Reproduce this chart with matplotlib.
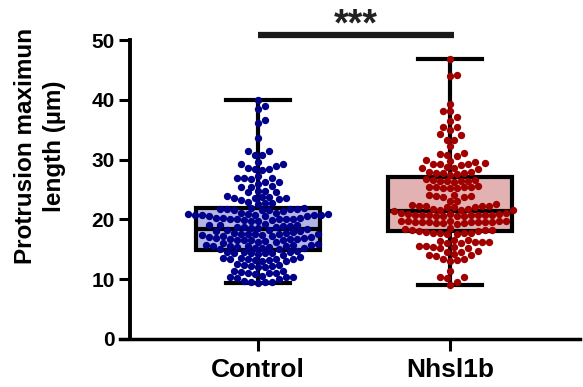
import numpy as np
import matplotlib
matplotlib.use('Agg')
import matplotlib.pyplot as plt

plt.rcParams['font.family'] = ['Liberation Sans', 'DejaVu Sans']
plt.rcParams['font.weight'] = 'bold'

#### DATA ####

groups = ['Control', 'Nhsl1b']

control = [
    39.9, 39.0, 38.4, 36.7, 36.2, 33.6, 31.5, 31.4, 30.8, 30.7,
    29.6, 29.3, 29.0, 29.2, 28.6, 28.4, 28.5, 28.3,
    27.0, 26.8, 27.0, 27.2, 26.9, 26.2, 26.2, 26.0,
    25.6, 25.4, 25.5,
    24.8, 24.6, 24.7, 24.5,
    23.8, 23.6, 23.5, 23.7, 23.4, 23.6, 23.9, 23.3,
    22.9, 22.7, 22.8, 22.6,
    21.9, 21.8, 21.6, 21.7, 21.5, 21.8, 21.6, 21.9, 21.4, 21.7,
    20.9, 20.7, 20.8, 20.6, 21.0, 20.9, 20.7, 20.5, 20.8, 21.1, 20.6, 20.9, 20.8,
    20.1, 19.9, 20.0, 20.2, 19.8, 20.0, 20.1, 19.9, 20.3, 19.7, 20.0, 20.2,
    18.9, 18.7, 18.8, 18.4, 19.1, 18.3, 18.8, 18.5, 19.0, 18.2, 19.2, 18.6, 18.9, 18.1, 19.0,
    17.6, 17.4, 17.5, 17.7, 17.3, 17.5, 17.8, 17.2, 17.6, 17.4, 17.5, 17.9, 17.0, 17.1, 18.0,
    16.7, 16.5, 16.6, 16.8, 16.4, 16.6, 16.9, 16.3, 16.7, 16.5, 16.0, 16.2, 16.9,
    15.6, 15.4, 15.5, 15.7, 15.3, 15.5, 15.8, 15.2, 15.6, 15.4, 15.9, 15.1, 15.0, 15.3, 15.7,
    14.5, 14.3, 14.4, 14.6, 14.2, 14.4, 14.7, 14.1, 14.5, 14.3,
    13.4, 13.2, 13.3, 13.5, 13.1, 13.3, 13.6, 13.0, 13.4, 13.2, 13.7,
    12.3, 12.1, 12.2, 12.4, 12.0, 12.2, 12.5,
    11.2, 11.0, 11.1, 11.3, 10.9, 11.1, 11.4,
    10.4, 10.2, 10.3, 10.5, 10.1, 10.3,
    9.6, 9.4, 9.5, 9.7, 9.5,
]

nhsl1b = [
    46.8, 44.1, 44.0, 39.3, 38.1, 38.2, 37.2, 36.4, 35.5, 35.4, 35.0, 34.1, 34.2,
    33.2, 33.3, 32.2, 31.0, 31.1, 30.6, 30.7, 30.0, 29.6, 29.7, 29.2, 29.3, 29.1,
    29.2, 29.4, 28.6, 28.7, 28.5, 28.6,
    27.9, 27.7, 27.8, 27.6, 28.0, 27.5, 27.8,
    26.6, 26.4, 26.5, 26.7, 26.3, 26.5, 26.6, 26.4,
    25.5, 25.3, 25.4, 25.6, 25.2, 25.4, 25.5, 25.3,
    24.0, 23.8, 23.9, 24.1, 23.7, 23.9,
    23.0, 23.1,
    22.3, 22.1, 22.2, 22.4, 22.0, 22.2, 22.3, 22.1, 22.5,
    21.7, 21.5, 21.6, 21.8, 21.4, 21.6,
    20.8, 20.6, 20.7, 20.9, 20.5, 20.8, 21.0, 20.6, 20.7, 20.9, 20.8, 20.6, 21.0, 20.7, 20.9, 20.8,
    19.6, 19.4, 19.5, 19.7, 19.3, 19.6, 19.8, 19.4, 19.5, 19.7, 19.6, 19.4, 19.8, 19.5, 19.7, 19.6,
    18.4, 18.2, 18.3, 18.5, 18.1, 18.3,
    17.8, 17.6, 17.7, 17.9, 17.5, 17.7, 18.0, 17.8,
    16.4, 16.2, 16.3, 16.5, 16.1, 16.3, 16.6, 16.0,
    15.5, 15.3, 15.4, 15.6, 15.2, 15.4,
    14.7, 14.5, 14.6,
    14.1, 13.9, 14.0, 14.2,
    13.3, 13.1, 13.2, 13.4,
    11.4,
    10.4, 10.2, 10.3,
    9.6, 9.1,
]

dot_colors = ['#00008B', '#A00000']
box_colors = ['#B4B4E4', '#E2B2B2']
yticks = [0, 10, 20, 30, 40, 50]
signif = '***'


#### SWARM LAYOUT ####

def swarm_offsets(vals, d, ypx):
    # greedy beeswarm, works in pixel units
    vals = np.asarray(vals)
    xs = np.zeros(len(vals))
    placed = []
    cands = [0.0]
    for k in range(1, 80):
        cands += [k * d / 2, -k * d / 2]
    for i in np.argsort(vals):
        y = vals[i] * ypx
        near = [(px, py) for px, py in placed if abs(py - y) < d]
        for c in cands:
            if all((c - px) ** 2 + (y - py) ** 2 >= d * d * 0.97 for px, py in near):
                break
        xs[i] = c
        placed.append((c, y))
    return xs


#### PLOT ####

fig = plt.figure(figsize=(5.83, 3.87), dpi=100)
ax = fig.add_axes([120 / 583, 48 / 387, 460 / 583, 299 / 387])

xpx = 192.0          # pixels per x unit
ypx = 299.0 / 50.0   # pixels per y unit
positions = [1, 2]

bp = ax.boxplot([control, nhsl1b], positions=positions, widths=0.65,
                whis=(0, 100), showfliers=False, patch_artist=True,
                capwidths=0.333, zorder=1,
                boxprops=dict(linewidth=3.0, edgecolor='black'),
                medianprops=dict(linewidth=3.0, color='black'),
                whiskerprops=dict(linewidth=3.0, color='black'),
                capprops=dict(linewidth=3.0, color='black'))
for patch, c in zip(bp['boxes'], box_colors):
    patch.set_facecolor(c)

for pos, vals, c in zip(positions, [control, nhsl1b], dot_colors):
    off = swarm_offsets(vals, 7.0, ypx) / xpx
    ax.scatter(pos + off, vals, s=28, color=c, linewidths=0, zorder=3,
               clip_on=False)

ax.set_xlim(1 - 138 / xpx, 2 + 130 / xpx)
ax.set_ylim(0, 50)
ax.set_yticks(yticks)
ax.set_xticks(positions)
ax.set_xticklabels(groups, fontsize=19, fontweight='bold')
ax.tick_params(axis='y', length=8, width=2.2, labelsize=15, pad=3)
ax.tick_params(axis='x', length=8.5, width=2.2, pad=5)
for lab in ax.get_yticklabels():
    lab.set_fontweight('bold')

ax.spines['top'].set_visible(False)
ax.spines['right'].set_visible(False)
ax.spines['left'].set_position(('data', 1 - 128 / xpx))
ax.spines['left'].set_linewidth(2.8)
ax.spines['bottom'].set_linewidth(2.5)

fig.text(40 / 583, 1 - 146 / 387, 'Protrusion maximun\nlength (µm)',
         rotation=90, ha='center', va='center', fontsize=17.5,
         fontweight='bold', linespacing=1.35)

# significance bar
ax.plot([1, 2.02], [50.8, 50.8], color='#1a1a1a', lw=4.5, clip_on=False,
        solid_capstyle='butt')
ax.text(1.51, (339 - 35) / ypx, signif, ha='center', va='baseline',
        fontsize=27, fontweight='bold', color='#222222', clip_on=False)

fig.savefig('out.png', dpi=100)
